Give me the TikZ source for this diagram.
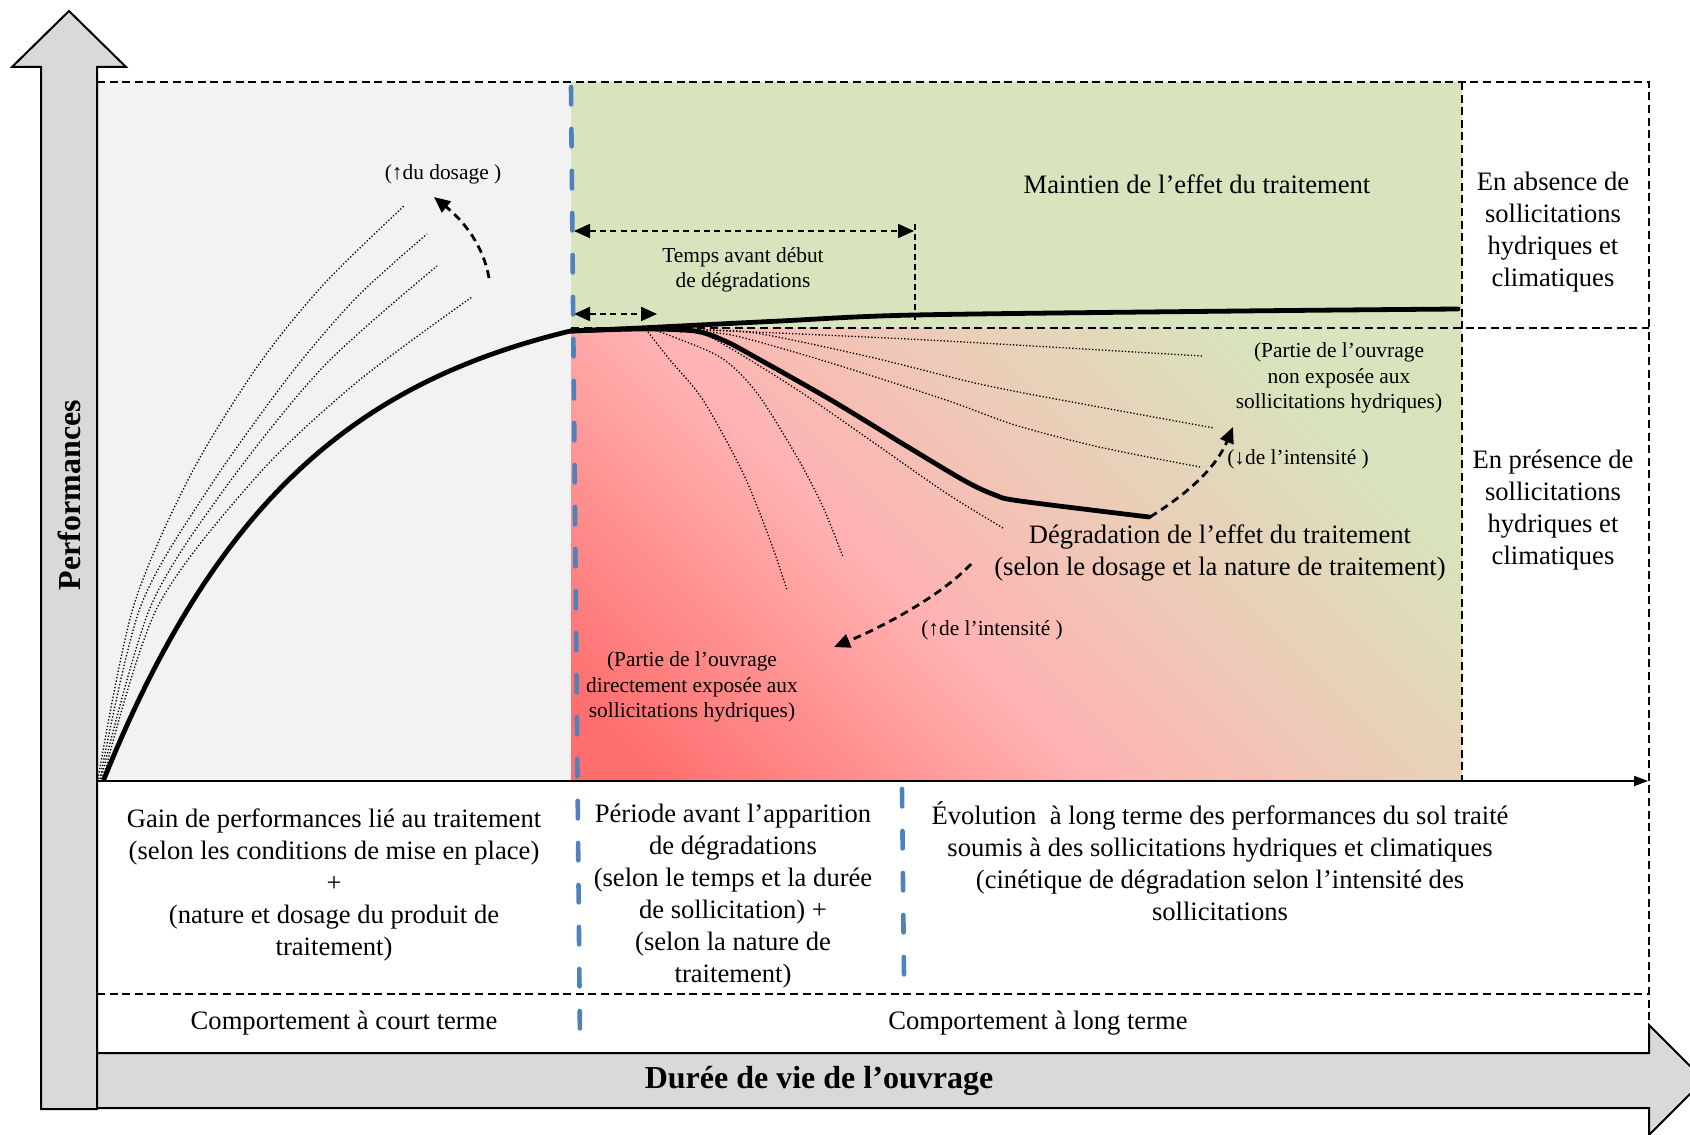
\documentclass[tikz,border=0pt]{standalone}
\usepackage{fontspec}
\setmainfont{Liberation Serif}
\usetikzlibrary{arrows.meta,positioning}
\definecolor{grisfond}{HTML}{F2F2F2}
\definecolor{grisfleche}{HTML}{D9D9D9}
\definecolor{vertpale}{HTML}{D7E4BD}
\definecolor{bleu}{HTML}{4F81BD}
\definecolor{rouge}{HTML}{FF6E6E}
\definecolor{rose}{HTML}{FFB2B2}
\definecolor{beige}{HTML}{EBCDB8}
\pgfdeclareverticalshading{degrade}{100bp}{color(0bp)=(rouge); color(19bp)=(rouge); color(42bp)=(rose); color(58bp)=(beige); color(74bp)=(vertpale); color(100bp)=(vertpale)}

\tikzset{
  courbe/.style={line width=2.4pt, line cap=round, line join=round},
  pointille/.style={line width=0.65pt, dash pattern=on 0.65pt off 1pt},
  cadre/.style={line width=0.7pt, dash pattern=on 4pt off 2.3pt},
  repere/.style={line width=0.8pt, dash pattern=on 3pt off 2pt},
  cote/.style={line width=1pt, dash pattern=on 3pt off 2.2pt,
               {Triangle[length=8pt,width=7pt]}-{Triangle[length=8pt,width=7pt]}},
  tendance/.style={line width=1.4pt, dash pattern=on 4pt off 2.6pt,
               -{Triangle[length=8pt,width=7pt]}},
  limite/.style={draw=bleu, line width=2.3pt, line cap=round, dash pattern=on 8.7pt off 12.3pt},
  fleche/.style={draw=black, line width=1pt, fill=grisfleche},
  txt/.style={font=\fontsize{13.3}{16}\selectfont, align=center},
  petit/.style={font=\fontsize{10.7}{12.7}\selectfont, align=center},
  titre/.style={font=\bfseries\fontsize{16}{19}\selectfont}
}

\begin{document}
\begin{tikzpicture}[x=0.5pt, y=-0.5pt]
  \path[use as bounding box, clip] (0,0) rectangle (1690,1134);

  % fonds
  \fill[grisfond] (97,82) rectangle (571,781);
  \fill[vertpale] (571,82) rectangle (1462,781);
  \shade[shading=degrade, shading angle=-45] (571,328) rectangle (1462,781);

  % cadre pointille
  \draw[cadre] (97,82) -- (1649,82) -- (1649,1025);
  \draw[cadre] (1462,82) -- (1462,781);
  \draw[cadre] (571,328) -- (1649,328);
  \draw[cadre] (97,994) -- (1649,994);
  \draw[line width=1pt, -{Triangle[length=7pt,width=5pt]}] (97,781) -- (1648,781);

  % gain initial
  \draw[pointille] plot[smooth] coordinates {(98,779) (133,608) (190,476) (257,367) (323,285) (405,205)};
  \draw[pointille] plot[smooth] coordinates {(100,779) (140,608) (207,491) (290,375) (357,297) (427,234)};
  \draw[pointille] plot[smooth] coordinates {(101,779) (150,608) (223,491) (323,367) (437,266)};
  \draw[pointille] plot[smooth] coordinates {(103,779) (157,608) (257,476) (357,382) (472,297)};
  \draw[courbe] plot[domain=104:571, samples=80] (\x, {779-496*(1-exp(-0.005*(\x-104)))});

  % evolution a long terme
  \draw[pointille] plot[smooth] coordinates {(680,329) (800,334) (946,341) (1202,356)};
  \draw[pointille] plot[smooth] coordinates {(690,330) (755,333) (870,357) (984,385) (1099,407) (1214,428)};
  \draw[pointille] plot[smooth] coordinates {(690,331) (736,336) (831,363) (946,400) (1015,425) (1099,447) (1200,467)};
  \draw[pointille] plot[smooth] coordinates {(680,332) (710,337) (793,387) (870,440) (946,493) (1003,528)};
  \draw[pointille] plot[smooth] coordinates {(648,332) (670,360) (703,400) (743,473) (770,540) (787,590)};
  \draw[pointille] plot[smooth] coordinates {(660,332) (720,357) (757,393) (797,457) (823,507) (843,557)};
  \draw[courbe] plot[smooth] coordinates {(571,331) (640,328) (780,321) (915,315) (1240,311) (1458,309)};
  \draw[courbe] plot[smooth] coordinates {(571,331) (640,329) (695,331) (725,341) (755,357) (831,400) (908,447) (965,481) (995,495) (1020,501) (1149,517)};

  % cotes de temps
  \coordinate (t0) at (574,231);
  \coordinate (t1) at (914,231);
  \coordinate (s0) at (574,314);
  \coordinate (s1) at (657,314);
  \draw[cote] (t0) -- (t1);
  \draw[cote] (s0) -- (s1);
  \draw[repere] (915,224) -- (915,322);

  % fleches de tendance
  \coordinate (dos0) at (489,278);
  \coordinate (dos1) at (434,197);
  \coordinate (finDeg) at (1150,517);
  \coordinate (moins1) at (1233,427);
  \coordinate (plus0) at (971,564);
  \coordinate (plus1) at (834,647);
  \draw[tendance] (dos0) .. controls (482,238) and (455,214) .. (dos1);
  \draw[tendance] (finDeg) .. controls (1185,495) and (1215,470) .. (moins1);
  \draw[tendance] (plus0) .. controls (940,597) and (880,628) .. (plus1);

  % limites de periodes
  \draw[limite] (571,87) -- (580,1043);
  \draw[limite] (902,789) -- (904,976);

  % axes
  \draw[fleche] (41,1109) -- (41,67) -- (12,67) -- (69,11) -- (126,67) -- (97,67) -- (97,1109) -- cycle;
  \draw[fleche] (97,1053) -- (1649,1053) -- (1649,1025) -- (1704,1080) -- (1649,1135) -- (1649,1108) -- (97,1108) -- cycle;
  \node[titre, rotate=90] (perf) at (69,495) {Performances};
  \node[titre] (duree) at (819,1081) {Durée de vie de l’ouvrage};

  % textes
  \node[petit] (dosage) at (443,174) {(↑du dosage )};
  \node[petit] (temps) at (743,270) {Temps avant début\\de dégradations};
  \node[txt] (maintien) at (1197,184) {Maintien de l’effet du traitement};
  \node[txt] (absence) at (1553,232) {En absence de\\sollicitations\\hydriques et\\climatiques};
  \node[txt] (presence) at (1553,510) {En présence de\\sollicitations\\hydriques et\\climatiques};
  \node[petit] (nonexpo) at (1339,378) {(Partie de l’ouvrage\\non exposée aux\\sollicitations hydriques)};
  \node[petit] (moinsint) at (1298,459) {(↓de l’intensité )};
  \node[txt] (degrad) at (1220,553) {Dégradation de l’effet du traitement\\(selon le dosage et la nature de traitement)};
  \node[petit] (plusint) at (992,630) {(↑de l’intensité )};
  \node[petit] (expo) at (692,687) {(Partie de l’ouvrage\\directement exposée aux\\sollicitations hydriques)};
  \node[txt] (gain) at (334,885) {Gain de performances lié au traitement\\(selon les conditions de mise en place)\\+\\(nature et dosage du produit de\\traitement)};
  \node[txt] (periode) at (733,896) {Période avant l’apparition\\de dégradations\\(selon le temps et la durée\\de sollicitation) +\\(selon la nature de\\traitement)};
  \node[txt] (evolution) at (1220,861) {Évolution\ \ à long terme des performances du sol traité\\soumis à des sollicitations hydriques et climatiques\\(cinétique de dégradation selon l’intensité des\\sollicitations};
  \node[txt] (court) at (344,1023) {Comportement à court terme};
  \node[txt] (long) at (1038,1023) {Comportement à long terme};
\end{tikzpicture}
\end{document}
